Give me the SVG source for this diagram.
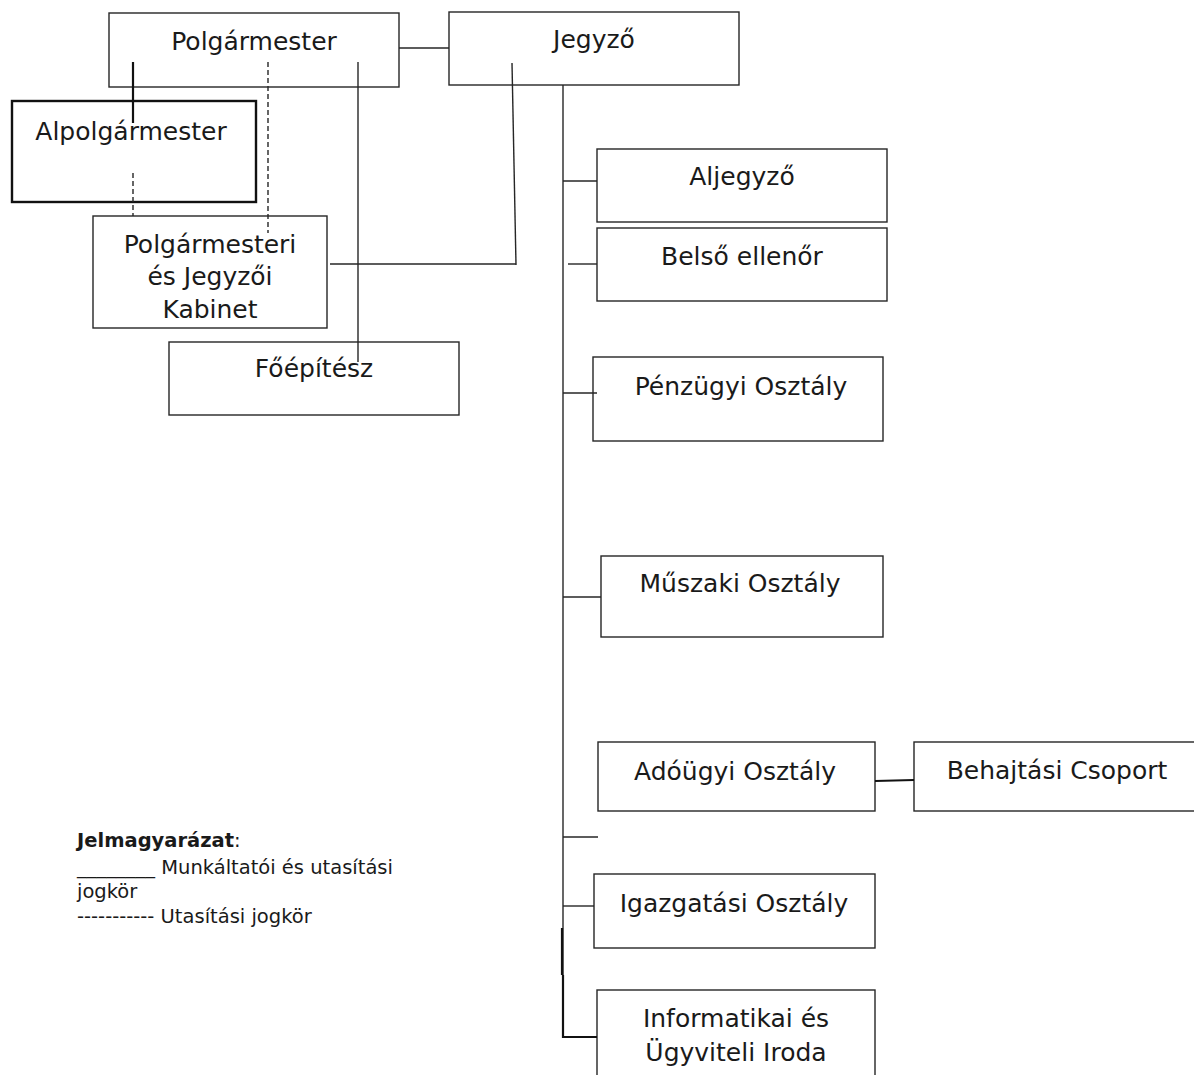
<svg xmlns="http://www.w3.org/2000/svg" width="1194" height="1075" viewBox="0 0 1194 1075">
<style>
.box{fill:#fff;stroke:#262626;stroke-width:1.4}
.thick{stroke:#111;stroke-width:2.4}
.t{font-family:"DejaVu Sans",sans-serif;font-size:25px;fill:#1a1a1a;text-anchor:middle}
.ln{fill:none;stroke:#262626;stroke-width:1.4}
.ln2{fill:none;stroke:#111;stroke-width:2.2}
.dash{fill:none;stroke:#262626;stroke-width:1.4;stroke-dasharray:5 3}
.lg{font-family:"DejaVu Sans",sans-serif;font-size:19.5px;fill:#1a1a1a}
</style>
<rect width="1194" height="1075" fill="#fff"/>
<g id="polgarmester"><rect class="box" x="109" y="13" width="290" height="74"/><text class="t" x="254" y="50">Polgármester</text></g>
<g id="jegyzo"><rect class="box" x="449" y="12" width="290" height="73"/><text class="t" x="594" y="48">Jegyző</text></g>
<g id="alpolgarmester"><rect class="box thick" x="12" y="101" width="244" height="101"/><text class="t" x="131" y="140">Alpolgármester</text></g>
<g id="kabinet"><rect class="box" x="93" y="216" width="234" height="112"/><text class="t" x="210" y="253">Polgármesteri</text><text class="t" x="210" y="285">és Jegyzői</text><text class="t" x="210" y="318">Kabinet</text></g>
<g id="foepitesz"><rect class="box" x="169" y="342" width="290" height="73"/><text class="t" x="314" y="377">Főépítész</text></g>
<g id="aljegyzo"><rect class="box" x="597" y="149" width="290" height="73"/><text class="t" x="742" y="185">Aljegyző</text></g>
<g id="belso-ellenor"><rect class="box" x="597" y="228" width="290" height="73"/><text class="t" x="742" y="265">Belső ellenőr</text></g>
<g id="penzugyi"><rect class="box" x="593" y="357" width="290" height="84"/><text class="t" x="741" y="395">Pénzügyi Osztály</text></g>
<g id="muszaki"><rect class="box" x="601" y="556" width="282" height="81"/><text class="t" x="740" y="592">Műszaki Osztály</text></g>
<g id="adougyi"><rect class="box" x="598" y="742" width="277" height="69"/><text class="t" x="735" y="780">Adóügyi Osztály</text></g>
<g id="behajtasi"><rect class="box" x="914" y="742" width="300" height="69"/><text class="t" x="1057" y="779">Behajtási Csoport</text></g>
<g id="igazgatasi"><rect class="box" x="594" y="874" width="281" height="74"/><text class="t" x="734" y="912">Igazgatási Osztály</text></g>
<g id="informatikai"><rect class="box" x="597" y="990" width="278" height="110"/><text class="t" x="736" y="1027">Informatikai és</text><text class="t" x="736" y="1061">Ügyviteli Iroda</text></g>
<g id="connectors">
<line class="ln" x1="399" y1="48" x2="449" y2="48"/>
<line class="ln2" x1="133" y1="62" x2="133" y2="123"/>
<line class="dash" x1="268" y1="62" x2="268" y2="233"/>
<line class="dash" x1="133" y1="173" x2="133" y2="216"/>
<line class="ln" x1="358" y1="62" x2="358" y2="362"/>
<polyline class="ln" points="512,63 516,265"/>
<line class="ln" x1="330" y1="264" x2="516" y2="264"/>
<line class="ln" x1="563" y1="85" x2="563" y2="1037"/>
<line class="ln" x1="563" y1="181" x2="597" y2="181"/>
<line class="ln" x1="568" y1="264" x2="597" y2="264"/>
<line class="ln" x1="563" y1="393" x2="597" y2="393"/>
<line class="ln" x1="563" y1="597" x2="601" y2="597"/>
<line class="ln2" x1="875" y1="781" x2="914" y2="780"/>
<line class="ln" x1="563" y1="837" x2="598" y2="837"/>
<line class="ln" x1="563" y1="906" x2="594" y2="906"/>
<line class="ln2" x1="562" y1="928" x2="562" y2="975"/>
<polyline class="ln2" points="563,975 563,1037 597,1037"/>
</g>
<g id="legend">
<text class="lg" x="77" y="847"><tspan font-weight="bold">Jelmagyarázat</tspan>:</text>
<text class="lg" x="77" y="874">________ Munkáltatói és utasítási</text>
<text class="lg" x="77" y="898">jogkör</text>
<text class="lg" x="77" y="923">----------- Utasítási jogkör</text>
</g>
</svg>
